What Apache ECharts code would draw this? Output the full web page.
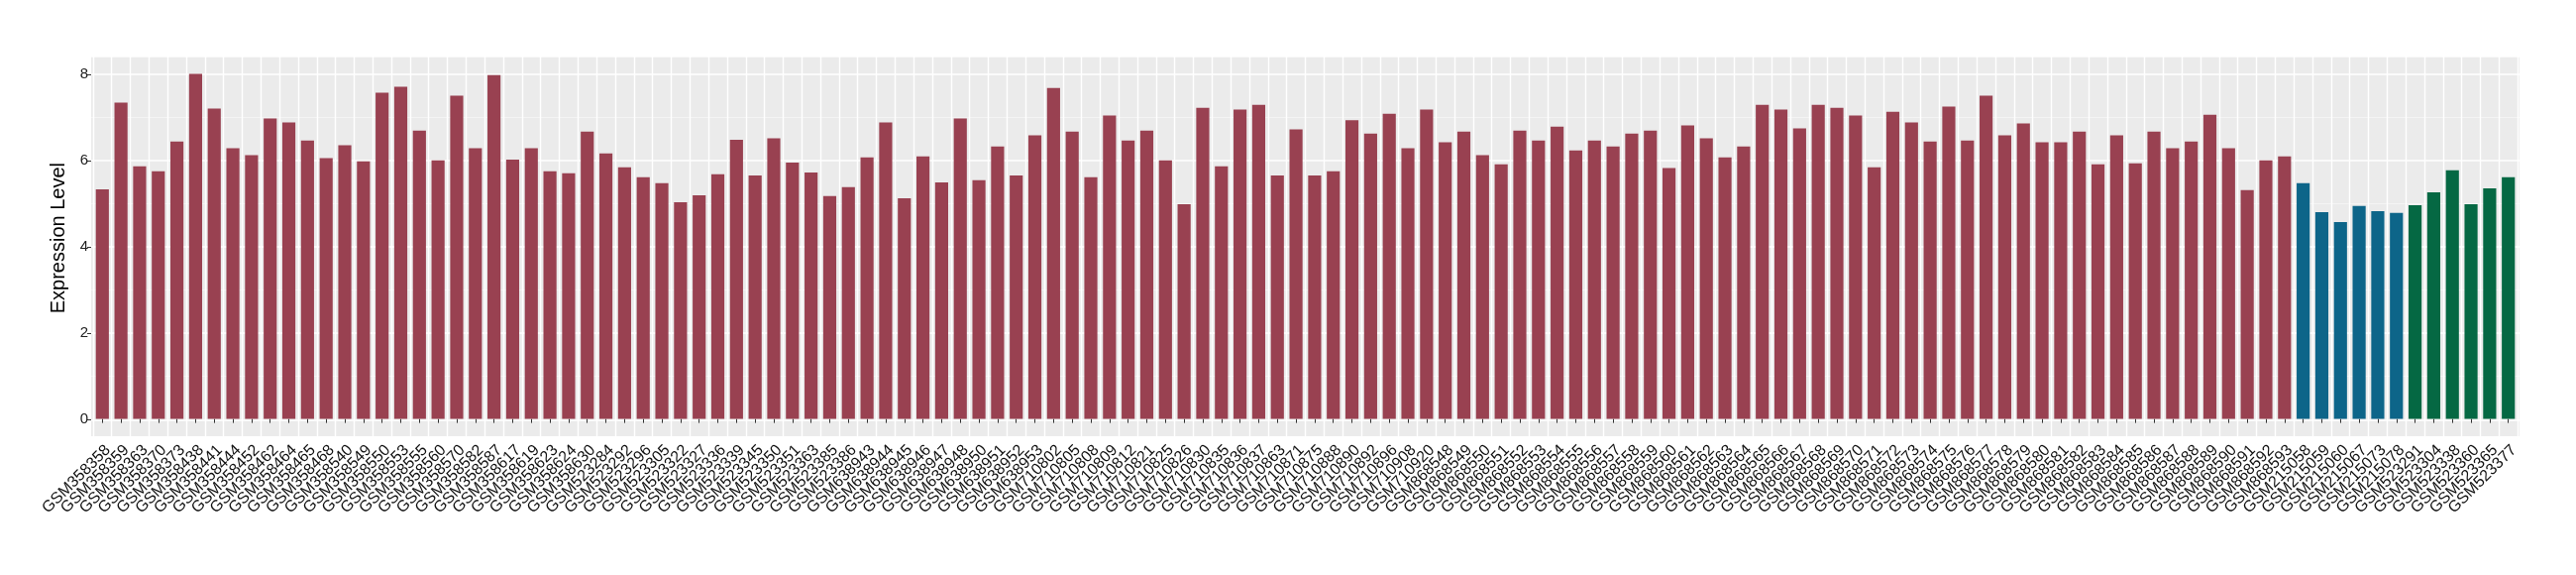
<!DOCTYPE html>
<html>
<head>
<meta charset="utf-8">
<script src="https://cdn.jsdelivr.net/npm/echarts@6/dist/echarts.min.js"></script>
<style>
html,body{margin:0;padding:0;background:#fff;}
#chart{width:2600px;height:580px;}
</style>
</head>
<body>
<div id="chart"></div>
<script>
const categories = [
  'GSM358358','GSM358359','GSM358363','GSM358370','GSM358373','GSM358438','GSM358441','GSM358444','GSM358452','GSM358462',
  'GSM358464','GSM358465','GSM358468','GSM358540','GSM358549','GSM358550','GSM358553','GSM358555','GSM358560','GSM358570',
  'GSM358582','GSM358587','GSM358617','GSM358619','GSM358623','GSM358624','GSM358630','GSM523284','GSM523292','GSM523296',
  'GSM523305','GSM523322','GSM523327','GSM523336','GSM523339','GSM523345','GSM523350','GSM523351','GSM523363','GSM523385',
  'GSM523386','GSM638943','GSM638944','GSM638945','GSM638946','GSM638947','GSM638948','GSM638950','GSM638951','GSM638952',
  'GSM638953','GSM710802','GSM710805','GSM710808','GSM710809','GSM710812','GSM710821','GSM710825','GSM710826','GSM710830',
  'GSM710835','GSM710836','GSM710837','GSM710863','GSM710871','GSM710875','GSM710888','GSM710890','GSM710892','GSM710896',
  'GSM710908','GSM710920','GSM868548','GSM868549','GSM868550','GSM868551','GSM868552','GSM868553','GSM868554','GSM868555',
  'GSM868556','GSM868557','GSM868558','GSM868559','GSM868560','GSM868561','GSM868562','GSM868563','GSM868564','GSM868565',
  'GSM868566','GSM868567','GSM868568','GSM868569','GSM868570','GSM868571','GSM868572','GSM868573','GSM868574','GSM868575',
  'GSM868576','GSM868577','GSM868578','GSM868579','GSM868580','GSM868581','GSM868582','GSM868583','GSM868584','GSM868585',
  'GSM868586','GSM868587','GSM868588','GSM868589','GSM868590','GSM868591','GSM868592','GSM868593',
  'GSM215058','GSM215059','GSM215060','GSM215067','GSM215073','GSM215078',
  'GSM523291','GSM523304','GSM523338','GSM523360','GSM523365','GSM523377'
];

const valuesRed = [
  5.33,7.34,5.86,5.75,6.44,8.01,7.20,6.28,6.12,6.97,
  6.88,6.46,6.05,6.35,5.98,7.57,7.71,6.69,6.00,7.50,
  6.28,7.98,6.02,6.28,5.75,5.70,6.67,6.16,5.84,5.61,
  5.47,5.03,5.19,5.68,6.48,5.65,6.51,5.95,5.72,5.17,
  5.38,6.07,6.88,5.12,6.09,5.49,6.97,5.54,6.32,5.65,
  6.58,7.68,6.67,5.61,7.04,6.46,6.69,6.00,4.98,7.22,
  5.86,7.18,7.29,5.65,6.72,5.65,5.75,6.93,6.62,7.08,
  6.28,7.18,6.42,6.67,6.12,5.91,6.69,6.46,6.78,6.23,
  6.46,6.32,6.62,6.69,5.82,6.81,6.51,6.07,6.32,7.29,
  7.18,6.74,7.29,7.22,7.04,5.84,7.13,6.88,6.44,7.25,
  6.46,7.50,6.58,6.86,6.42,6.42,6.67,5.91,6.58,5.93,
  6.67,6.28,6.44,7.06,6.28,5.31,6.00,6.09
];
const valuesBlue = [5.47,4.80,4.57,4.94,4.82,4.78];
const valuesGreen = [4.96,5.26,5.77,4.98,5.35,5.61];

const groupColors = ['#994151','#0d6589','#056843'];
const yTicks = [0, 2, 4, 6, 8];

const barData = [];
[valuesRed, valuesBlue, valuesGreen].forEach(function (arr, gi) {
  arr.forEach(function (v) {
    barData.push({ value: v, itemStyle: { color: groupColors[gi] } });
  });
});

const FONT = "'Liberation Sans', Arial, sans-serif";
const PANEL_L = 92, PANEL_R = 2543, PANEL_T = 57, PANEL_B = 440, ZERO_Y = 423.3;
const nCat = categories.length;
const step = (PANEL_R - PANEL_L) / (nCat - 1 + 1.2);
const inset = 0.1 * step;

const chart = echarts.init(document.getElementById('chart'), null, { renderer: 'canvas' });
chart.setOption({
  animation: false,
  backgroundColor: '#ffffff',
  grid: [
    { left: PANEL_L, top: PANEL_T, width: PANEL_R - PANEL_L, height: PANEL_B - PANEL_T,
      show: true, backgroundColor: '#EBEBEB', borderWidth: 0, containLabel: false },
    { left: PANEL_L, top: PANEL_T, width: PANEL_R - PANEL_L, height: ZERO_Y - PANEL_T, containLabel: false },
    { left: PANEL_L + inset, top: PANEL_T, width: PANEL_R - PANEL_L - 2 * inset, height: PANEL_B - PANEL_T, containLabel: false }
  ],
  xAxis: [
    { gridIndex: 0, type: 'value', show: false },
    { gridIndex: 1, type: 'value', show: false },
    { gridIndex: 2, type: 'category', data: categories, boundaryGap: true,
      axisLine: { show: false },
      axisTick: { show: true, alignWithLabel: true, length: 4, lineStyle: { color: '#333333', width: 1 } },
      axisLabel: { interval: 0, rotate: 45, margin: 6, fontSize: 16, fontFamily: FONT, color: '#111111',
                   align: 'right', verticalAlign: 'top' },
      splitLine: { show: true, interval: 0, lineStyle: { color: '#ffffff', width: 1.4 } }
    }
  ],
  yAxis: [
    { gridIndex: 0, type: 'value', show: false },
    { gridIndex: 1, type: 'value', min: 0, max: 8.41, interval: 2,
      name: 'Expression Level', nameLocation: 'middle', nameGap: 17, nameRotate: 90,
      nameTextStyle: { fontSize: 20, fontFamily: FONT, color: '#000000' },
      axisLine: { show: false },
      axisTick: { show: true, length: 4, lineStyle: { color: '#333333', width: 1 } },
      axisLabel: { margin: 3, fontSize: 15, fontFamily: FONT, color: '#222222',
                   showMaxLabel: false,
                   formatter: function (v) { return yTicks.indexOf(v) >= 0 ? String(v) : ''; } },
      splitLine: { show: true, lineStyle: { color: '#ffffff', width: 1.6 } },
      minorTick: { show: false, splitNumber: 2 },
      minorSplitLine: { show: true, lineStyle: { color: '#f6f6f6', width: 0.8 } }
    },
    { gridIndex: 2, type: 'value', min: -0.4, max: 8.41, show: false }
  ],
  series: [
    { type: 'bar', xAxisIndex: 2, yAxisIndex: 2, data: barData, barWidth: '70%' }
  ]
});
</script>
</body>
</html>
